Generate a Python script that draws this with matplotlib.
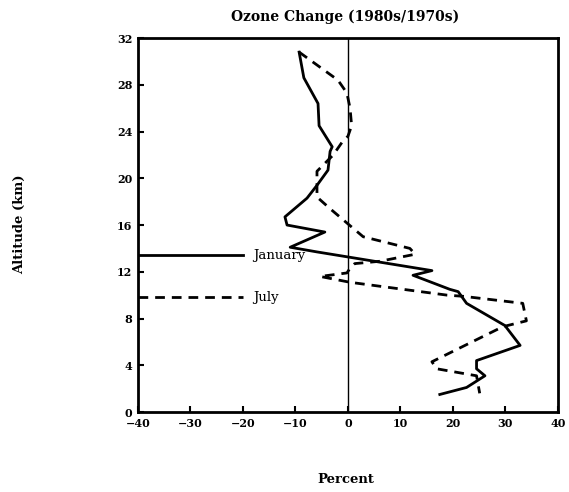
import numpy as np
import matplotlib.pyplot as plt

# January (solid) profile: percent change vs altitude (km)
jan_pct = [-9.3, -8.4, -5.7, -5.5, -3.0, -3.4, -3.8, -5.9, -7.8, -12.0, -11.6,
           -4.4, -11.0, -5.9, 16.0, 12.4, 19.4, 21.0, 22.6, 29.9, 32.8, 24.5,
           24.5, 26.1, 22.6, 17.5]
jan_alt = [30.8, 28.6, 26.4, 24.5, 22.7, 22.3, 20.7, 19.4, 18.3, 16.7, 16.0,
           15.4, 14.1, 13.7, 12.1, 11.7, 10.5, 10.3, 9.3, 7.4, 5.7, 4.4,
           3.7, 3.1, 2.1, 1.5]

# July (dashed) profile
jul_pct = [-9.3, -1.9, -0.2, 0.4, 0.7, 0.0, -1.1, -2.8, -5.9, -5.9, -3.4,
           0.0, 2.9, 11.8, 12.8, 6.1, 1.3, 0.4, -0.2, -5.3, 0.4, 18.9, 22.0,
           33.3, 34.0, 29.5, 16.0, 16.9, 24.5, 25.1]
jul_alt = [30.8, 28.4, 27.3, 26.0, 24.5, 23.6, 23.1, 22.0, 20.6, 18.4, 17.4,
           16.1, 15.0, 14.0, 13.5, 12.9, 12.7, 12.3, 11.9, 11.6, 11.1, 10.0, 9.9,
           9.3, 7.8, 7.3, 4.3, 3.7, 3.1, 1.6]

xticks = [-40, -30, -20, -10, 0, 10, 20, 30, 40]
yticks = [0, 4, 8, 12, 16, 20, 24, 28, 32]

fig = plt.figure(figsize=(5.69, 4.92), dpi=100)
ax = fig.add_axes([0.2425, 0.1626, 0.738, 0.760])

ax.plot(jan_pct, jan_alt, color='black', lw=2.0)
ax.plot(jul_pct, jul_alt, color='black', lw=2.0, ls=(0, (3.5, 2.5)))
ax.axvline(0, color='black', lw=1.0)

# in-plot legend
ax.plot([-40, -20], [13.4, 13.4], color='black', lw=2.0)
ax.text(-18, 13.4, 'January', family='DejaVu Serif', fontsize=9.5, va='center')
ax.plot([-40, -20], [9.8, 9.8], color='black', lw=2.0, ls=(0, (3.5, 2.5)))
ax.text(-18, 9.8, 'July', family='DejaVu Serif', fontsize=9.5, va='center')

ax.set_xlim(-40, 40)
ax.set_ylim(0, 32)
ax.set_xticks(xticks)
ax.set_yticks(yticks)
ax.set_xticklabels([f'{t:d}'.replace('-', '\u2212') for t in xticks])
ax.tick_params(direction='in', length=4, width=1.5, labelsize=8, pad=4)
for lab in ax.get_xticklabels() + ax.get_yticklabels():
    lab.set_fontweight('bold')
    lab.set_family('DejaVu Serif')
for sp in ax.spines.values():
    sp.set_linewidth(2.0)

fig.text(0.607, 0.965, 'Ozone Change (1980s/1970s)', ha='center', va='center',
         family='DejaVu Serif', fontweight='bold', fontsize=10)
fig.text(0.035, 0.545, 'Altitude (km)', rotation=90, ha='center', va='center',
         family='DejaVu Serif', fontweight='bold', fontsize=9.5)
fig.text(0.607, 0.025, 'Percent', ha='center', va='center',
         family='DejaVu Serif', fontweight='bold', fontsize=9.5)

fig.savefig('out.png', dpi=100)
